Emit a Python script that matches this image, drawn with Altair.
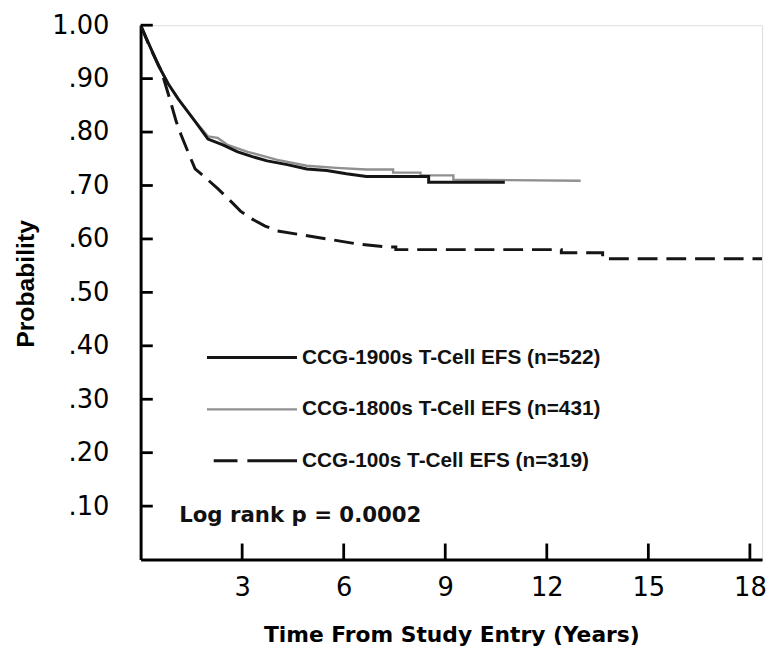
import altair as alt
import pandas as pd

# ---- data ----
s1900_t = [0, 0.23, 0.53, 0.82, 1.11, 1.61, 1.99, 2.43, 2.87, 3.30, 3.74, 4.33, 4.91, 5.50, 6.08, 6.67, 7.54, 8.51, 8.51, 10.76]
s1900_p = [1.0, 0.967, 0.924, 0.89, 0.862, 0.82, 0.787, 0.776, 0.763, 0.754, 0.746, 0.739, 0.731, 0.728, 0.722, 0.717, 0.717, 0.717, 0.706, 0.706]

s1800_t = [0, 0.23, 0.53, 0.82, 1.11, 1.61, 1.99, 2.28, 2.57, 3.16, 4.04, 4.91, 5.79, 6.67, 7.46, 7.46, 8.27, 8.27, 9.24, 9.24, 13.0]
s1800_p = [1.0, 0.967, 0.924, 0.89, 0.862, 0.82, 0.792, 0.789, 0.776, 0.763, 0.748, 0.737, 0.733, 0.730, 0.730, 0.724, 0.724, 0.719, 0.719, 0.711, 0.709]

s100_t = [0, 0.25, 0.61, 0.88, 1.05, 1.20, 1.40, 1.61, 1.84, 2.28, 2.72, 2.95, 3.30, 3.68, 4.04, 4.62, 5.50, 6.37, 7.25, 7.54, 7.54, 12.43, 12.43, 13.65, 13.65, 18.36]
s100_p = [1.0, 0.962, 0.915, 0.858, 0.82, 0.794, 0.763, 0.731, 0.719, 0.694, 0.667, 0.652, 0.637, 0.624, 0.615, 0.609, 0.600, 0.591, 0.585, 0.585, 0.580, 0.580, 0.574, 0.574, 0.563, 0.563]

legend_labels = ["CCG-1900s T-Cell EFS (n=522)",
                 "CCG-1800s T-Cell EFS (n=431)",
                 "CCG-100s T-Cell EFS (n=319)"]
note_text = "Log rank p = 0.0002"

x_ticks = [3, 6, 9, 12, 15, 18]
y_ticks = [0.1, 0.2, 0.3, 0.4, 0.5, 0.6, 0.7, 0.8, 0.9, 1.0]

X_MAX = 18.36

# annotation placement (data units)
leg_y = [0.378, 0.281, 0.185]
leg_x0, leg_x1, leg_text_x, leg_dash_x0 = 1.96, 4.62, 4.77, 2.16
note_x, note_y = 1.14, 0.082


def series_df(t, p):
    return pd.DataFrame({"t": t, "p": p, "i": list(range(len(t)))})


xs = alt.Scale(domain=[0, X_MAX], nice=False, zero=False)
ys = alt.Scale(domain=[0, 1], nice=False)

x_axis = alt.Axis(values=x_ticks, ticks=False, grid=False, domainWidth=3, domainColor="black",
                  labelFont="DejaVu Sans", labelFontSize=26, labelColor="black", labelPadding=15,
                  title="Time From Study Entry (Years)", titleFont="DejaVu Sans", titleFontWeight="bold",
                  titleFontSize=22, titleColor="black", titlePadding=25)
y_axis = alt.Axis(values=y_ticks, ticks=False, grid=False, domainWidth=3, domainColor="black",
                  labelFont="DejaVu Sans", labelFontSize=26, labelColor="black", labelPadding=32,
                  labelExpr="datum.value >= 1 ? '1.00' : slice(format(datum.value, '.2f'), 1)",
                  title="Probability", titleFont="Liberation Sans", titleFontWeight="bold",
                  titleFontSize=25, titleColor="black", titleAngle=-90, titleX=-116, titleY=261,
                  titleAlign="center", titleBaseline="middle")

base_axes = alt.Chart(pd.DataFrame({"t": [0], "p": [0]})).mark_point(opacity=0).encode(
    x=alt.X("t:Q", scale=xs, axis=x_axis),
    y=alt.Y("p:Q", scale=ys, axis=y_axis),
)


def curve(t, p, color, width, dash=None):
    kw = dict(color=color, strokeWidth=width, interpolate="linear", clip=True)
    if dash:
        kw["strokeDash"] = dash
    return alt.Chart(series_df(t, p)).mark_line(**kw).encode(
        x=alt.X("t:Q", scale=xs), y=alt.Y("p:Q", scale=ys), order="i:Q")


c1800 = curve(s1800_t, s1800_p, "#909090", 2.4)
c1900 = curve(s1900_t, s1900_p, "#151515", 3)
c100 = curve(s100_t, s100_p, "#151515", 3, [20, 9])

# inward tick marks
ytick_df = pd.DataFrame({"p": y_ticks, "x0": [0] * len(y_ticks), "x1": [0.36] * len(y_ticks)})
yticks = alt.Chart(ytick_df).mark_rule(color="black", strokeWidth=2.8).encode(
    x=alt.X("x0:Q", scale=xs), x2="x1:Q", y=alt.Y("p:Q", scale=ys))
xtick_df = pd.DataFrame({"t": x_ticks, "y0": [0] * len(x_ticks), "y1": [0.03] * len(x_ticks)})
xticks = alt.Chart(xtick_df).mark_rule(color="black", strokeWidth=2.8).encode(
    x=alt.X("t:Q", scale=xs), y=alt.Y("y0:Q", scale=ys), y2="y1:Q")

# legend
leg_solid = pd.DataFrame({"x0": [leg_x0], "x1": [leg_x1], "y": [leg_y[0]]})
leg_grey = pd.DataFrame({"x0": [leg_x0], "x1": [leg_x1], "y": [leg_y[1]]})
leg_dash = pd.DataFrame({"x0": [leg_dash_x0], "x1": [leg_x1], "y": [leg_y[2]]})


def leg_rule(df, color, width, dash=None):
    kw = dict(color=color, strokeWidth=width)
    if dash:
        kw["strokeDash"] = dash
    return alt.Chart(df).mark_rule(**kw).encode(
        x=alt.X("x0:Q", scale=xs), x2="x1:Q", y=alt.Y("y:Q", scale=ys))


l1 = leg_rule(leg_solid, "#151515", 3)
l2 = leg_rule(leg_grey, "#909090", 2.4)
l3 = leg_rule(leg_dash, "#151515", 3, [24, 10, 60, 0])

leg_txt_df = pd.DataFrame({"label": legend_labels, "y": leg_y, "x": [leg_text_x] * 3})
leg_txt = alt.Chart(leg_txt_df).mark_text(align="left", baseline="middle", font="Liberation Sans",
                                          fontWeight="bold", fontSize=21, color="#111").encode(
    x=alt.X("x:Q", scale=xs), y=alt.Y("y:Q", scale=ys), text="label:N")

note = alt.Chart(pd.DataFrame({"x": [note_x], "y": [note_y], "label": [note_text]})).mark_text(
    align="left", baseline="middle", font="DejaVu Sans", fontWeight="bold", fontSize=21.5,
    color="#111").encode(x=alt.X("x:Q", scale=xs), y=alt.Y("y:Q", scale=ys), text="label:N")

chart = alt.layer(base_axes, c1800, c1900, c100, yticks, xticks, l1, l2, l3, leg_txt, note).properties(
    width=628, height=540,
    autosize=alt.AutoSizeParams(type="none"),
    padding={"left": 134, "top": 14, "right": 7, "bottom": 86},
).configure_view(stroke=None).configure(background="white")

chart.save("out.html", embed_options={"renderer": "svg", "actions": False})
